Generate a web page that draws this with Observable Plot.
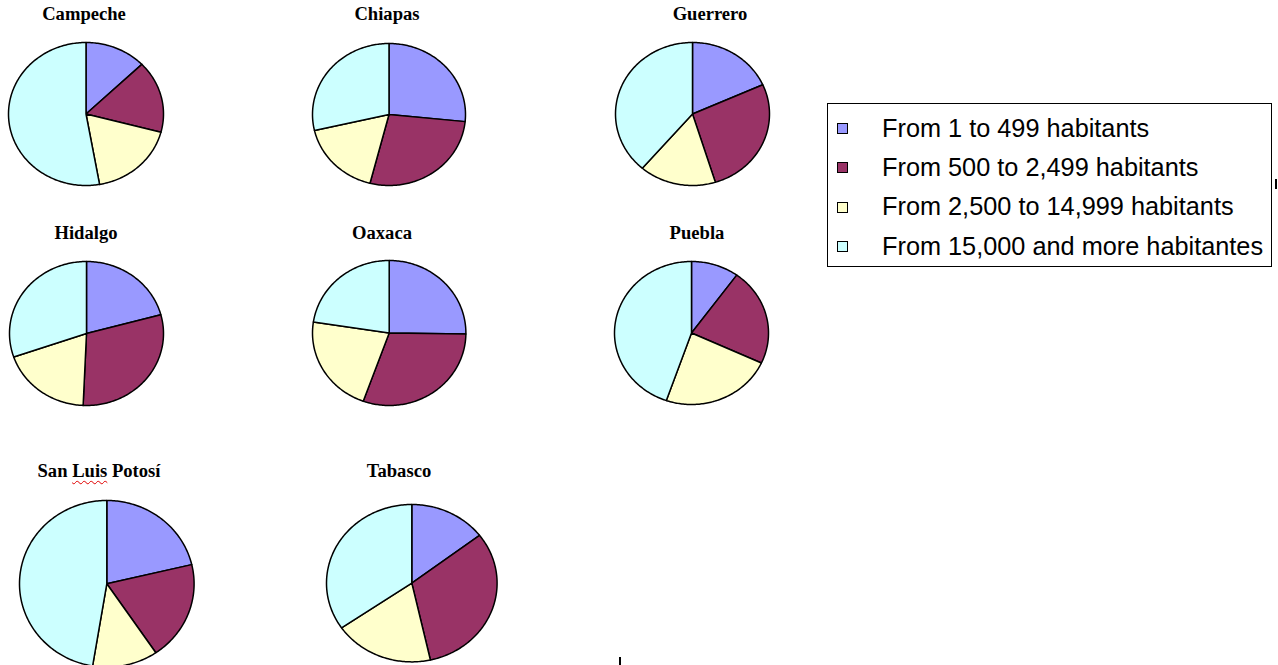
<!DOCTYPE html>
<html>
<head>
<meta charset="utf-8">
<script src="https://cdn.jsdelivr.net/npm/d3@7"></script>
<script src="https://cdn.jsdelivr.net/npm/@observablehq/plot@0.6"></script>
<style>
  html, body { margin: 0; padding: 0; background: #fff; }
  #page { position: relative; width: 1278px; height: 665px; overflow: hidden; background: #fff; }
  .title { position: absolute; width: 260px; text-align: center; white-space: nowrap;
    font-family: "Liberation Serif", "Times New Roman", serif; font-weight: bold;
    font-size: 18.6px; line-height: 18.6px; color: #000; }
  .squiggle { text-decoration: underline wavy #e00000; text-decoration-thickness: 1px; text-underline-offset: 3px; }
  .pie { position: absolute; }
  .pie svg { display: block; background: transparent; overflow: visible; }
  .legend-box { position: absolute; left: 827px; top: 103px; width: 443px; height: 162px; border: 1px solid #000; }
  .swatch { position: absolute; width: 9px; height: 9px; border: 1px solid #000; }
  .legend-text { position: absolute; white-space: nowrap; font-family: "Liberation Sans", Arial, sans-serif;
    font-size: 25.3px; line-height: 25.3px; color: #000; }
  .mark { position: absolute; background: #000; }
</style>
</head>
<body>
<div id="page"></div>
<script>
// ---------- data ----------
const states = ["Campeche", "Chiapas", "Guerrero", "Hidalgo", "Oaxaca", "Puebla", "San Luis Potosí", "Tabasco"];
const categories = [
  "From 1 to 499 habitants",
  "From 500 to 2,499 habitants",
  "From 2,500 to 14,999 habitants",
  "From 15,000 and more habitantes"
];
// percentage of population by locality size
const from1to499       = [12.8, 26.6, 18.3, 20.8, 25.2, 10.0, 21.3, 14.6];
const from500to2499    = [16.3, 27.4, 26.9, 29.9, 30.3, 21.9, 19.2, 31.9];
const from2500to14999  = [18.1, 17.4, 16.1, 19.0, 21.9, 23.4, 12.1, 18.9];
const from15000andMore = [52.8, 28.6, 38.7, 30.3, 22.6, 44.7, 47.4, 34.6];
const series = [from1to499, from500to2499, from2500to14999, from15000andMore];

// ---------- style / layout ----------
const colors = ["#9999FF", "#993366", "#FFFFCC", "#CCFFFF"];
const pieCenterX = [85.5, 388.5, 692, 85.5, 388.5, 691, 106, 411.3];
const pieCenterY = [113.5, 113.5, 113.5, 333, 332.5, 332.5, 583.3, 583];
const pieRadiusX = [77.5, 76.5, 77, 77, 76.7, 77, 87.3, 85.3];
const pieRadiusY = [71.5, 71, 71.5, 72, 72.5, 71.5, 83.3, 78.7];
const titleX = [84, 387, 710, 86, 382, 697, 99, 399];
const titleBaseline = [20.5, 20.5, 20.5, 240, 240, 240, 478, 478];
const legendBaseline = [137, 176.3, 215.6, 255];

const page = document.getElementById("page");
const pad = 2;

states.forEach((state, i) => {
  // title
  const t = document.createElement("div");
  t.className = "title";
  t.style.left = (titleX[i] - 130) + "px";
  t.style.top = (titleBaseline[i] - 15.6) + "px";
  if (state === "San Luis Potosí") {
    t.innerHTML = 'San <span class="squiggle">Luis</span> Potosí';
  } else {
    t.textContent = state;
  }
  page.appendChild(t);

  // pie slices (clockwise from 12 o'clock, in data order)
  const values = series.map(s => s[i]);
  const arcs = d3.pie().sort(null).value(d => d)(values);
  const points = [];
  arcs.forEach((a, k) => {
    const cat = categories[k];
    const steps = Math.max(2, Math.ceil((a.endAngle - a.startAngle) / (Math.PI / 180)));
    points.push({x: 0, y: 0, cat});
    for (let s = 0; s <= steps; s++) {
      const ang = a.startAngle + (a.endAngle - a.startAngle) * s / steps;
      points.push({x: Math.sin(ang), y: Math.cos(ang), cat});
    }
    points.push({x: 0, y: 0, cat});
  });

  const W = 2 * pieRadiusX[i] + 2 * pad;
  const H = 2 * pieRadiusY[i] + 2 * pad;
  const chart = Plot.plot({
    width: W,
    height: H,
    margin: pad,
    style: {background: "transparent", overflow: "visible"},
    x: {domain: [-1, 1], axis: null},
    y: {domain: [-1, 1], axis: null},
    color: {domain: categories, range: colors},
    marks: [
      Plot.line(points, {x: "x", y: "y", z: "cat", fill: "cat", stroke: "#000",
        strokeWidth: 1.5, strokeLinejoin: "round", curve: "linear"})
    ]
  });
  const holder = document.createElement("div");
  holder.className = "pie";
  holder.style.left = (pieCenterX[i] - pieRadiusX[i] - pad) + "px";
  holder.style.top = (pieCenterY[i] - pieRadiusY[i] - pad) + "px";
  holder.style.width = W + "px";
  holder.style.height = H + "px";
  holder.appendChild(chart);
  page.appendChild(holder);
});

// legend
const box = document.createElement("div");
box.className = "legend-box";
page.appendChild(box);
categories.forEach((c, k) => {
  const sw = document.createElement("div");
  sw.className = "swatch";
  sw.style.left = "837px";
  sw.style.top = (legendBaseline[k] - 14) + "px";
  sw.style.background = colors[k];
  page.appendChild(sw);
  const tx = document.createElement("div");
  tx.className = "legend-text";
  tx.style.left = "882px";
  tx.style.top = (legendBaseline[k] - 21.4) + "px";
  tx.textContent = c;
  page.appendChild(tx);
});

// small stray marks visible in the original
[[1275, 179, 2, 10], [619, 657, 2, 8]].forEach(([l, t, w, h]) => {
  const m = document.createElement("div");
  m.className = "mark";
  m.style.left = l + "px"; m.style.top = t + "px";
  m.style.width = w + "px"; m.style.height = h + "px";
  page.appendChild(m);
});
</script>
</body>
</html>
